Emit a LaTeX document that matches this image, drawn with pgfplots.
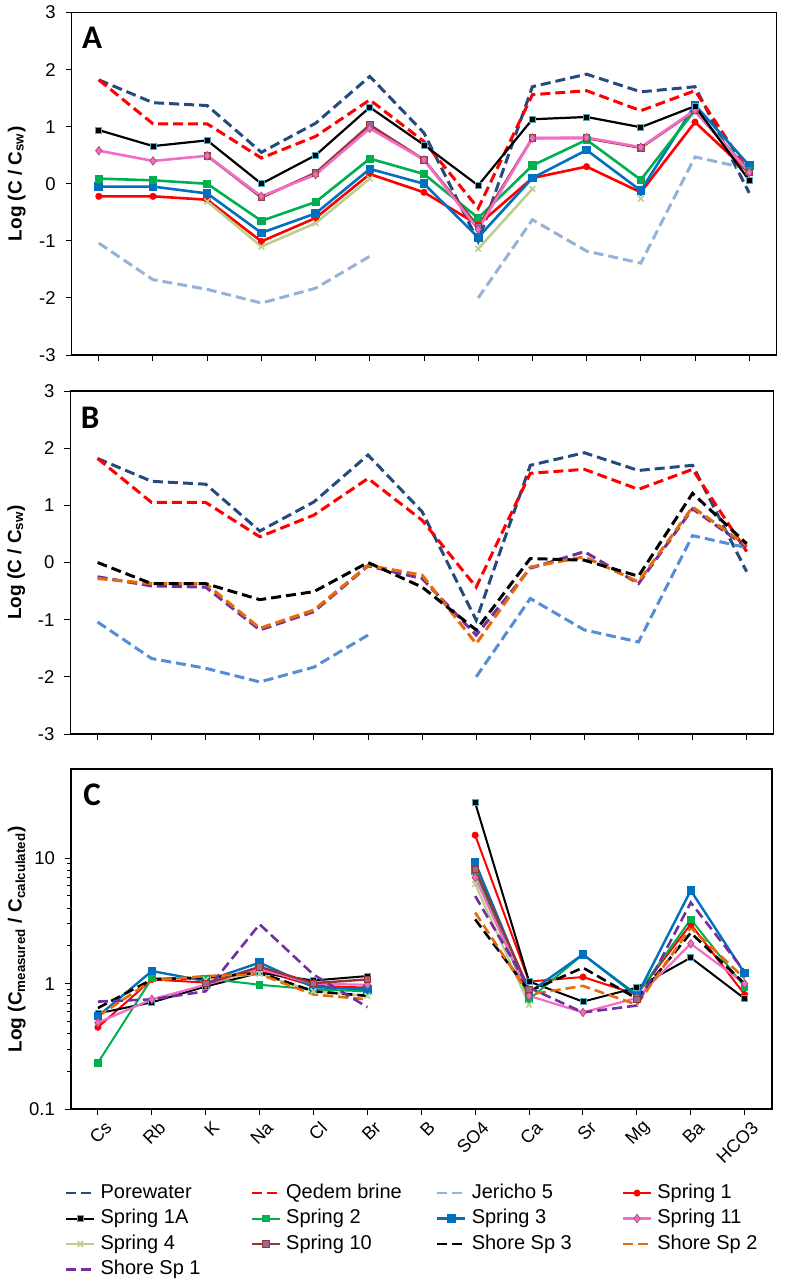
\documentclass[border=0pt]{standalone}
\usepackage{fontspec}
\setmainfont{Liberation Sans}
\newfontfamily\calib{Carlito}
\usepackage{pgfplots}
\usepackage{pgfplotstable}
\pgfplotsset{compat=1.18}

\definecolor{cPW}{HTML}{254A7D}
\definecolor{cQB}{HTML}{FF0000}
\definecolor{cJA}{HTML}{95B3D7}
\definecolor{cJB}{HTML}{558ED5}
\definecolor{cS1}{HTML}{FF0000}
\definecolor{cS2}{HTML}{00B050}
\definecolor{cS3}{HTML}{0070C0}
\definecolor{cS11}{HTML}{F36CC8}
\definecolor{cS11d}{HTML}{B0507A}
\definecolor{cS4}{HTML}{B9D08E}
\definecolor{cS10}{HTML}{953735}
\definecolor{cS10m}{HTML}{9C6A8E}
\definecolor{cTeal}{HTML}{4BACC6}
\definecolor{cSS2}{HTML}{E46C0A}
\definecolor{cSS1}{HTML}{7030A0}

% Panel A: x pw qb j5 s1 s1a s2 s3 s11 s4 s10
\pgfplotstableread{
x  pw    qb    j5    s1    s1a   s2    s3    s11   s4    s10
0  1.82  1.82  -1.04 -0.22 0.94  0.09  -0.05 0.58  nan   nan
1  1.42  1.05  -1.68 -0.22 0.66  0.06  -0.05 0.40  nan   nan
2  1.37  1.05  -1.85 -0.28 0.76  0.00  -0.17 0.49  -0.31 0.49
3  0.55  0.45  -2.09 -1.01 0.00  -0.65 -0.86 -0.22 -1.10 -0.24
4  1.06  0.83  -1.83 -0.60 0.50  -0.32 -0.52 0.16  -0.69 0.19
5  1.88  1.47  -1.27 0.17  1.34  0.44  0.26  0.97  0.09  1.03
6  0.89  0.74  nan   -0.15 0.68  0.17  0.00  0.42  nan   0.42
7  -1.01 -0.43 -2.00 -0.72 -0.03 -0.60 -0.94 -0.80 -1.14 -0.75
8  1.70  1.56  -0.63 0.10  1.13  0.32  0.10  0.80  -0.09 0.80
9  1.92  1.63  -1.18 0.30  1.17  0.77  0.59  0.81  nan   0.80
10 1.61  1.28  -1.39 -0.15 0.99  0.07  -0.12 0.64  -0.26 0.63
11 1.70  1.63  0.47  1.08  1.36  1.29  1.38  1.29  nan   1.28
12 -0.16 0.19  0.26  0.19  0.06  0.22  0.32  0.20  nan   0.20
}\tabA

% Panel B: x pw qb j5 ss3 ss2 ss1
\pgfplotstableread{
x  pw    qb    j5    ss3   ss2   ss1
0  1.82  1.82  -1.04 0.00  -0.28 -0.25
1  1.42  1.05  -1.68 -0.37 -0.37 -0.41
2  1.37  1.05  -1.85 -0.37 -0.37 -0.43
3  0.55  0.45  -2.09 -0.65 -1.15 -1.18
4  1.06  0.83  -1.83 -0.51 -0.83 -0.86
5  1.88  1.47  -1.27 0.00  -0.05 -0.06
6  0.89  0.74  nan   -0.43 -0.22 -0.28
7  -1.01 -0.43 -2.00 -1.18 -1.42 -1.27
8  1.70  1.56  -0.63 0.07  -0.08 -0.10
9  1.92  1.63  -1.18 0.04  0.10  0.19
10 1.61  1.28  -1.39 -0.24 -0.34 -0.37
11 1.70  1.63  0.47  1.21  0.97  0.94
12 -0.16 0.19  0.26  0.33  0.30  0.27
}\tabB

% Panel C: x s1 s1a s2 s3 s11 s4 s10 ss3 ss2 ss1
\pgfplotstableread{
x  s1    s1a   s2    s3    s11   s4    s10   ss3   ss2   ss1
0  0.45  0.58  0.235 0.55  0.49  nan   nan   0.64  0.55  0.72
1  1.08  0.71  1.10  1.26  0.75  nan   nan   1.08  1.06  0.75
2  1.02  0.95  1.10  1.05  0.98  1.08  1.00  1.12  1.15  0.87
3  1.28  1.22  0.98  1.47  1.30  1.20  1.36  1.22  1.19  2.97
4  0.96  1.06  0.90  0.94  1.00  0.87  1.01  0.87  0.82  1.18
5  0.93  1.15  0.87  0.90  0.98  0.80  1.08  0.80  0.75  0.65
6  nan   nan   nan   nan   nan   nan   nan   nan   nan   nan
7  15.2  27.5  7.9   9.2   7.0   6.2   8.1   3.25  3.68  4.98
8  1.04  1.04  0.75  0.85  0.80  0.68  0.90  0.87  0.82  0.93
9  1.13  0.72  1.71  1.71  0.59  nan   nan   1.34  0.96  0.59
10 0.82  0.93  0.82  0.80  0.77  0.75  0.75  0.76  0.68  0.67
11 2.97  1.61  3.25  5.52  2.08  nan   nan   2.54  2.79  4.42
12 0.82  0.76  0.94  1.21  1.00  nan   nan   1.00  1.10  1.25
}\tabC

\pgfplotsset{
  base/.style={scale only axis, xmin=-0.5, xmax=12.5, xtick={0,...,12},
    tick align=outside, xtick pos=bottom, ytick pos=left,
    major tick length=3pt, minor tick length=2pt,
    tick style={black, line width=0.5pt},
    axis line style={line width=0.6pt},
    unbounded coords=jump,
    /pgf/number format/assume math mode=true,
    yticklabel style={font=\fontsize{9.25}{11}\selectfont, xshift=-1.5pt},
    anchor=north west},
  dsh/.style={line width=1.5pt, dash pattern=on 5pt off 2.5pt, no markers},
  pw/.style={dsh, color=cPW},
  qb/.style={dsh, color=cQB},
  jA/.style={dsh, color=cJA},
  jB/.style={dsh, color=cJB},
  ss3/.style={dsh, color=black},
  ss2/.style={dsh, color=cSS2},
  ss1/.style={dsh, color=cSS1},
  s1/.style={color=cS1, line width=1.3pt, mark=*, mark size=1.6pt, mark options={solid, line width=0.3pt}},
  s1a/.style={color=black, line width=1.1pt, mark=square*, mark size=1.5pt, mark options={solid, fill=black, draw=cTeal, line width=0.4pt}},
  s2/.style={color=cS2, line width=1.3pt, mark=square*, mark size=1.4pt, mark options={solid}},
  s3/.style={color=cS3, line width=1.3pt, mark=square*, mark size=1.5pt, mark options={solid}},
  s11/.style={color=cS11, line width=1.3pt, mark=diamond*, mark size=2.1pt, mark options={solid, fill=cS11, draw=cS11d, line width=0.4pt}},
  s4/.style={color=cS4, line width=1.3pt, mark=x, mark size=2pt, mark options={solid, line width=0.8pt}},
  s10/.style={color=cS10, line width=1.3pt, mark=square*, mark size=1.6pt, mark options={solid, fill=cS10m, draw=cS10, line width=0.4pt}},
}

\begin{document}
\begin{tikzpicture}
\path[use as bounding box] (0,0) rectangle (392pt,-643.5pt);

% ---------------- Panel A
\begin{axis}[base, at={(35.85pt,-6.25pt)}, width=352.3pt, height=171.25pt,
  ymin=-3, ymax=3, ytick={-3,...,3}, xticklabels={},
  ylabel={Log (C / C\textsubscript{sw})},
  every axis y label/.style={at={(axis description cs:-0.078,0.5)}, rotate=90, anchor=center, font=\fontsize{9.5}{11}\selectfont\bfseries}]
\addplot[pw] table[x=x,y=pw]{\tabA};
\addplot[qb] table[x=x,y=qb]{\tabA};
\addplot[jA] table[x=x,y=j5]{\tabA};
\addplot[s1] table[x=x,y=s1]{\tabA};
\addplot[s3] table[x=x,y=s3]{\tabA};
\addplot[s2] table[x=x,y=s2]{\tabA};
\addplot[s4] table[x=x,y=s4]{\tabA};
\addplot[s10] table[x=x,y=s10]{\tabA};
\addplot[s11] table[x=x,y=s11]{\tabA};
\addplot[s1a] table[x=x,y=s1a]{\tabA};
\node[anchor=base west, inner sep=0pt, font=\calib\fontsize{16.5}{18}\selectfont\bfseries] at (rel axis cs:0,1) [xshift=5pt, yshift=-17.75pt] {A};
\end{axis}

% ---------------- Panel B
\begin{axis}[base, at={(35.25pt,-195.5pt)}, width=351.6pt, height=171.5pt,
  ymin=-3, ymax=3, ytick={-3,...,3}, xticklabels={},
  ylabel={Log (C / C\textsubscript{sw})},
  every axis y label/.style={at={(axis description cs:-0.077,0.5)}, rotate=90, anchor=center, font=\fontsize{9.5}{11}\selectfont\bfseries}]
\addplot[pw] table[x=x,y=pw]{\tabB};
\addplot[qb] table[x=x,y=qb]{\tabB};
\addplot[jB] table[x=x,y=j5]{\tabB};
\addplot[ss1] table[x=x,y=ss1]{\tabB};
\addplot[ss2] table[x=x,y=ss2]{\tabB};
\addplot[ss3] table[x=x,y=ss3]{\tabB};
\node[anchor=base west, inner sep=0pt, font=\calib\fontsize{16.5}{18}\selectfont\bfseries] at (rel axis cs:0,1) [xshift=5pt, yshift=-18.5pt] {B};
\end{axis}

% ---------------- Panel C
\begin{axis}[base, at={(35.5pt,-384.65pt)}, width=350.3pt, height=170pt,
  ymode=log, ymin=0.1, ymax=50.8, ytick={0.1,1,10}, yticklabels={0.1,1,10},
  axis line style={line width=1pt},
  xticklabels={Cs,Rb,K,Na,Cl,Br,B,SO4,Ca,Sr,Mg,Ba,HCO3},
  xticklabel style={rotate=45, anchor=east, inner sep=0pt, font=\fontsize{9}{11}\selectfont, xshift=0.5pt, yshift=-7pt},
  ylabel={Log (C\textsubscript{measured} / C\textsubscript{calculated})},
  every axis y label/.style={at={(axis description cs:-0.0775,0.5)}, rotate=90, anchor=center, font=\fontsize{9.5}{11}\selectfont\bfseries},
  legend columns=4, legend cell align=left,
  legend image code/.code={\draw[mark repeat=2,mark phase=2] plot coordinates {(0pt,0pt) (7pt,0pt) (14pt,0pt)};},
  legend style={at={(-0.0086,-0.2088)}, anchor=north west, draw=none, fill=none,
    inner sep=0pt, outer sep=0pt, font=\fontsize{10}{12}\selectfont, row sep=0pt,
    nodes={inner sep=0pt, text height=9pt, text depth=3.75pt},
    /tikz/every odd column/.append style={column sep=2.5pt},
    /tikz/every even column/.append style={column sep=0pt}},
  s1/.append style={line width=1pt}, s1a/.append style={line width=1pt},
  s2/.append style={line width=1pt}, s3/.append style={line width=1.2pt},
  s11/.append style={line width=1.1pt}, s4/.append style={line width=1.1pt},
  s10/.append style={line width=1.2pt},
  dsh/.append style={line width=1.3pt}]
\addlegendimage{pw}\addlegendentry{\makebox[75pt][l]{Porewater}}
\addlegendimage{qb}\addlegendentry{\makebox[75pt][l]{Qedem brine}}
\addlegendimage{jA}\addlegendentry{\makebox[75pt][l]{Jericho 5}}
\addplot[s1] table[x=x,y=s1]{\tabC};\addlegendentry{\makebox[75pt][l]{Spring 1}}
\addplot[s1a] table[x=x,y=s1a]{\tabC};\addlegendentry{\makebox[75pt][l]{Spring 1A}}
\addplot[s2] table[x=x,y=s2]{\tabC};\addlegendentry{\makebox[75pt][l]{Spring 2}}
\addplot[s3] table[x=x,y=s3]{\tabC};\addlegendentry{\makebox[75pt][l]{Spring 3}}
\addplot[s11] table[x=x,y=s11]{\tabC};\addlegendentry{\makebox[75pt][l]{Spring 11}}
\addplot[s4] table[x=x,y=s4]{\tabC};\addlegendentry{\makebox[75pt][l]{Spring 4}}
\addplot[s10] table[x=x,y=s10]{\tabC};\addlegendentry{\makebox[75pt][l]{Spring 10}}
\addplot[ss3] table[x=x,y=ss3]{\tabC};\addlegendentry{\makebox[75pt][l]{Shore Sp 3}}
\addplot[ss2] table[x=x,y=ss2]{\tabC};\addlegendentry{\makebox[75pt][l]{Shore Sp 2}}
\addplot[ss1] table[x=x,y=ss1]{\tabC};\addlegendentry{\makebox[75pt][l]{Shore Sp 1}}
\node[anchor=base west, inner sep=0pt, font=\calib\fontsize{16.5}{18}\selectfont\bfseries] at (rel axis cs:0,1) [xshift=6pt, yshift=-17.85pt] {C};
\end{axis}
\end{tikzpicture}
\end{document}
